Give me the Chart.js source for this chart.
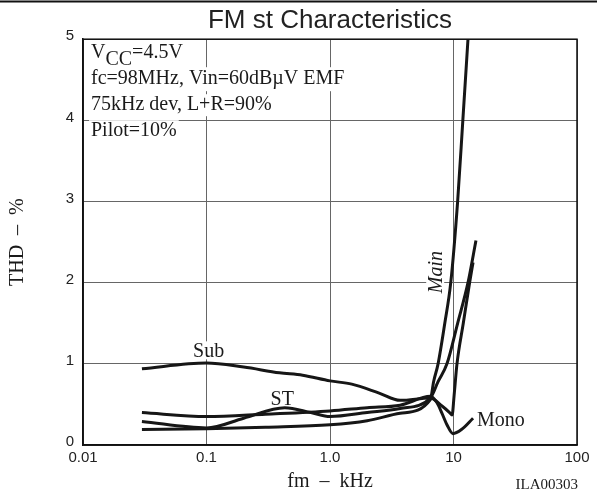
<!DOCTYPE html>
<html><head><meta charset="utf-8">
<script src="https://cdn.jsdelivr.net/npm/chart.js@4/dist/chart.umd.min.js"></script>
<style>html,body{margin:0;padding:0;background:#fff;}canvas{display:block;}</style>
</head><body>
<canvas id="c" width="597" height="494"></canvas>
<script>
// ---- data (frequency in kHz, THD in %) ----
const xTickValues = [0.01, 0.1, 1, 10, 100];
const xTickLabels = ["0.01", "0.1", "1.0", "10", "100"];
const yTickValues = [0, 1, 2, 3, 4, 5];

const mainF   = [0.03, 0.1, 0.3, 1.0, 2.0, 3.7, 6.5, 6.9, 7.5, 8.5, 9.5, 10.8, 11.9, 13.1];
const mainThd = [0.19, 0.20, 0.22, 0.25, 0.30, 0.39, 0.56, 0.78, 1.0, 1.5, 2.0, 3.0, 4.0, 5.0];

const stF   = [0.03, 0.1, 0.2, 0.43, 0.7, 1.0, 2.0, 3.7, 6.5, 7.5, 8.85, 10.8, 13.1, 15.2];
const stThd = [0.29, 0.21, 0.33, 0.46, 0.40, 0.35, 0.40, 0.45, 0.58, 0.78, 1.0, 1.5, 2.0, 2.52];

const monoF   = [0.03, 0.1, 0.3, 1.0, 2.0, 3.7, 6.5, 7.35, 8.07, 8.85, 9.9, 11.6, 14.4];
const monoThd = [0.40, 0.35, 0.38, 0.42, 0.46, 0.49, 0.60, 0.52, 0.39, 0.25, 0.14, 0.19, 0.33];

const subF   = [0.03, 0.1, 0.2, 0.39, 0.6, 1.0, 1.5, 2.5, 3.7, 6.5, 8.07, 9.3, 9.75, 10.1, 10.67, 12.0, 13.5, 14.4];
const subThd = [0.94, 1.01, 0.96, 0.89, 0.86, 0.79, 0.75, 0.64, 0.55, 0.58, 0.48, 0.40, 0.37, 0.60, 1.0, 1.5, 2.0, 2.25];

const pts = (f, v) => f.map((x, i) => ({x: x, y: v[i]}));

const curve = (label, f, v) => ({
  label, data: pts(f, v),
  borderColor: '#161616', borderWidth: 3, pointRadius: 0,
  fill: false, cubicInterpolationMode: 'monotone'
});

const serif = 'Liberation Serif';
const sans = 'Liberation Sans';

function textBg(ctx, txt, x, y, align) {
  const m = ctx.measureText(txt);
  const w = m.width;
  let x0 = x;
  if (align === 'center') x0 = x - w / 2;
  else if (align === 'right') x0 = x - w;
  ctx.fillStyle = '#fff';
  ctx.fillRect(x0 - 2, y - m.actualBoundingBoxAscent - 2, w + 4, m.actualBoundingBoxAscent + m.actualBoundingBoxDescent + 4);
  ctx.fillStyle = '#1a1a1a';
  ctx.textAlign = align;
  ctx.fillText(txt, x, y);
}

const decor = {
  id: 'decor',
  beforeDraw(chart) {
    const ctx = chart.ctx;
    ctx.save();
    ctx.fillStyle = '#fff';
    ctx.fillRect(0, 0, chart.width, chart.height);
    ctx.strokeStyle = '#111';
    ctx.lineWidth = 2;
    ctx.beginPath(); ctx.moveTo(0, 1.5); ctx.lineTo(chart.width, 1.5); ctx.stroke();
    ctx.restore();
  },
  beforeDatasetsDraw(chart) {
    const ctx = chart.ctx;
    const a = chart.chartArea;
    const xs = chart.scales.x, ys = chart.scales.y;
    ctx.save();
    ctx.textBaseline = 'alphabetic';
    ctx.font = '20px ' + serif;
    const lx = a.left + 8;
    // line 1: VCC=4.5V with subscript
    const wV = ctx.measureText('V').width, wCC = ctx.measureText('CC').width, wR = ctx.measureText('=4.5V').width;
    ctx.fillStyle = '#fff';
    ctx.fillRect(lx - 2, a.top + 3, wV + wCC + wR + 4, 26);
    ctx.fillStyle = '#1a1a1a';
    ctx.textAlign = 'left';
    ctx.fillText('V', lx, a.top + 19);
    ctx.fillText('CC', lx + wV, a.top + 26);
    ctx.fillText('=4.5V', lx + wV + wCC, a.top + 19);
    textBg(ctx, 'fc=98MHz, Vin=60dBµV EMF', lx, a.top + 45, 'left');
    textBg(ctx, '75kHz dev, L+R=90%', lx, a.top + 71, 'left');
    textBg(ctx, 'Pilot=10%', lx, a.top + 97, 'left');
    // curve labels
    textBg(ctx, 'Sub', xs.getPixelForValue(0.104), ys.getPixelForValue(1.08), 'center');
    textBg(ctx, 'ST', xs.getPixelForValue(0.41), ys.getPixelForValue(0.49), 'center');
    textBg(ctx, 'Mono', xs.getPixelForValue(15.5), ys.getPixelForValue(0.23), 'left');
    // Main rotated italic
    ctx.font = 'italic 20px ' + serif;
    ctx.translate(xs.getPixelForValue(8.1), ys.getPixelForValue(2.13));
    ctx.rotate(-Math.PI / 2);
    textBg(ctx, 'Main', 0, 0, 'center');
    ctx.restore();
  },
  afterDatasetsDraw(chart) {
    const ctx = chart.ctx;
    const a = chart.chartArea;
    ctx.save();
    ctx.strokeStyle = '#111';
    ctx.lineWidth = 1.5;
    ctx.strokeRect(a.left, a.top, a.right - a.left, a.bottom - a.top);
    ctx.restore();
  },
  afterDraw(chart) {
    const ctx = chart.ctx;
    ctx.save();
    ctx.font = '15px ' + serif;
    ctx.fillStyle = '#1a1a1a';
    ctx.textAlign = 'right';
    ctx.textBaseline = 'alphabetic';
    ctx.fillText('ILA00303', chart.chartArea.right + 1, 489);
    ctx.restore();
  }
};

new Chart(document.getElementById('c'), {
  type: 'line',
  data: {
    datasets: [
      curve('Main', mainF, mainThd),
      curve('ST', stF, stThd),
      curve('Mono', monoF, monoThd),
      curve('Sub', subF, subThd)
    ]
  },
  options: {
    responsive: false,
    animation: false,
    devicePixelRatio: 1,
    layout: {padding: {left: 0, right: 20, top: 0, bottom: 0}},
    plugins: {
      legend: {display: false},
      tooltip: {enabled: false},
      title: {
        display: true, fullSize: false, text: 'FM st Characteristics', color: '#222',
        font: {family: sans, size: 26, weight: 'normal'},
        padding: {top: 5, bottom: 3}
      }
    },
    scales: {
      x: {
        type: 'logarithmic', min: 0.01, max: 100,
        afterBuildTicks: s => { s.ticks = xTickValues.map(v => ({value: v})); },
        afterFit: s => { s.height = 49; },
        ticks: {
          callback: (v, i) => xTickLabels[i],
          font: {family: sans, size: 15}, color: '#222',
          padding: 4, maxRotation: 0, autoSkip: false
        },
        grid: {color: '#666', lineWidth: 1, drawTicks: false},
        border: {color: '#111', width: 1.5},
        title: {display: true, text: 'fm  –  kHz', color: '#1a1a1a',
          font: {family: serif, size: 20}, padding: {top: 1, bottom: 0}}
      },
      y: {
        type: 'linear', min: 0, max: 5,
        afterBuildTicks: s => { s.ticks = yTickValues.map(v => ({value: v})); },
        afterFit: s => { s.width = 83; },
        ticks: {font: {family: sans, size: 15}, color: '#222', padding: 9, labelOffset: -3},
        grid: {color: '#666', lineWidth: 1, drawTicks: false},
        border: {color: '#111', width: 1.5},
        title: {display: true, text: 'THD  –  %', color: '#1a1a1a',
          font: {family: serif, size: 20}, padding: {top: 6, bottom: 0}}
      }
    }
  },
  plugins: [decor]
});
</script>
</body></html>
